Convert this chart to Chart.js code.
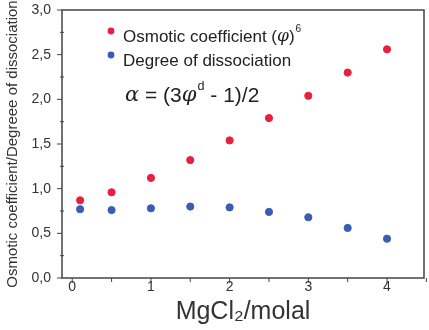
<!DOCTYPE html>
<html>
<head>
<meta charset="utf-8">
<script src="https://cdn.jsdelivr.net/npm/chart.js@4.4.0/dist/chart.umd.min.js"></script>
<style>
  html, body { margin: 0; padding: 0; background: #fff; }
  #wrap { width: 429px; height: 330px; position: relative; }
</style>
</head>
<body>
<div id="wrap"><canvas id="chart" width="429" height="330"></canvas></div>
<script>
// MgCl2 molality
const molal = [0.1, 0.5, 1, 1.5, 2, 2.5, 3, 3.5, 4];
// osmotic coefficient
const osmotic = [0.87, 0.96, 1.12, 1.32, 1.54, 1.79, 2.04, 2.30, 2.56];
// degree of dissociation
const dissociation = [0.77, 0.76, 0.78, 0.80, 0.79, 0.74, 0.68, 0.56, 0.44];

const xTicks = [0, 0.5, 1, 1.5, 2, 2.5, 3, 3.5, 4, 4.5];
const yTicks = [0, 0.25, 0.5, 0.75, 1, 1.25, 1.5, 1.75, 2, 2.25, 2.5, 2.75, 3];

const seriesNames = ['Osmotic coefficient (φ)^6', 'Degree of dissociation'];
const formula = 'α = (3φ^d - 1)/2';
const xTitle = 'MgCl₂/molal';
const yTitle = 'Osmotic coefficient/Degreee of dissociation';

const FONT = 'Arial, "Liberation Sans", sans-serif';
const axisColor = '#444';

function fmt(v) {
    return v.toFixed(1).replace('.', ',');
}

// draw text with "^x" as superscript, Greek letters in italics
function drawRich(ctx, text, x, y, size) {
    const parts = text.split('^');
    ctx.textBaseline = 'middle';
    ctx.textAlign = 'left';
    parts.forEach((p, idx) => {
        let str = p;
        if (idx > 0) {
            const sup = p.charAt(0);
            str = p.slice(1);
            ctx.font = (size * 0.6) + 'px ' + FONT;
            ctx.fillText(sup, x + 1, y - size * 0.45);
            x += ctx.measureText(sup).width + 1;
        }
        for (const ch of str) {
            const greek = /[α-ω]/.test(ch);
            ctx.font = (greek ? 'italic ' : '') + size + 'px ' + (greek ? '"DejaVu Serif", serif' : FONT);
            ctx.fillText(ch, x, y);
            x += ctx.measureText(ch).width;
        }
    });
}

const annotations = {
    id: 'annotations',
    afterDraw(chart) {
        const ctx = chart.ctx;
        const area = chart.chartArea;
        const xs = chart.scales.x, ys = chart.scales.y;
        ctx.save();

        // frame
        ctx.strokeStyle = axisColor;
        ctx.lineWidth = 1.5;
        ctx.strokeRect(area.left, area.top, area.right - area.left, area.bottom - area.top);

        // tick marks
        ctx.lineWidth = 1;
        xTicks.forEach(v => {
            const px = xs.getPixelForValue(v);
            ctx.beginPath();
            ctx.moveTo(px, area.bottom);
            ctx.lineTo(px, area.bottom + (Number.isInteger(v) ? 5 : 4));
            ctx.stroke();
        });
        yTicks.forEach(v => {
            const py = ys.getPixelForValue(v);
            const major = Math.abs(v * 2 - Math.round(v * 2)) < 1e-6;
            ctx.beginPath();
            ctx.moveTo(area.left - (major ? 5 : 2), py);
            ctx.lineTo(area.left + (major ? 0 : 2), py);
            ctx.stroke();
        });

        // legend
        chart.data.datasets.forEach((ds, i) => {
            const y = 34 + i * 24;
            ctx.beginPath();
            ctx.fillStyle = ds.backgroundColor;
            ctx.arc(111, y - 3, 3.4, 0, Math.PI * 2);
            ctx.fill();
            ctx.fillStyle = '#222';
            drawRich(ctx, ds.label, 123, y + 3, 17);
        });

        // formula
        drawRich(ctx, formula, 125, 96, 21);
        ctx.restore();
    }
};

new Chart(document.getElementById('chart'), {
    type: 'scatter',
    data: {
        datasets: [{
            label: seriesNames[0],
            data: molal.map((x, i) => ({ x: x, y: osmotic[i] })),
            backgroundColor: '#e8203e',
            borderColor: '#e8203e',
            pointRadius: 3.6
        }, {
            label: seriesNames[1],
            data: molal.map((x, i) => ({ x: x, y: dissociation[i] })),
            backgroundColor: '#3b5cb4',
            borderColor: '#3b5cb4',
            pointRadius: 3.6
        }]
    },
    options: {
        responsive: false,
        animation: false,
        devicePixelRatio: 1,
        layout: { padding: { left: 0, right: 3, top: 10, bottom: 0 } },
        plugins: { legend: { display: false }, tooltip: { enabled: false } },
        scales: {
            x: {
                type: 'linear',
                min: -0.13,
                max: 4.47,
                afterBuildTicks: axis => { axis.ticks = xTicks.map(v => ({ value: v })); },
                afterFit: axis => {
                    axis.height = 52;
                    axis.paddingLeft = 0;
                    axis.paddingRight = 0;
                },
                grid: { display: false, drawTicks: false },
                border: { display: false },
                ticks: {
                    padding: 1,
                    autoSkip: false,
                    maxRotation: 0,
                    color: '#333',
                    font: { family: FONT, size: 14 },
                    callback: v => Number.isInteger(v) ? String(v) : ''
                },
                title: {
                    display: true,
                    text: xTitle,
                    color: '#333',
                    font: { family: FONT, size: 25 },
                    padding: { top: 0, bottom: 3 }
                }
            },
            y: {
                min: 0,
                max: 3,
                afterBuildTicks: axis => { axis.ticks = yTicks.map(v => ({ value: v })); },
                afterFit: axis => {
                    axis.width = 62;
                    axis.paddingTop = 0;
                    axis.paddingBottom = 0;
                },
                grid: { display: false, drawTicks: false },
                border: { display: false },
                ticks: {
                    padding: 11,
                    autoSkip: false,
                    color: '#333',
                    font: { family: FONT, size: 14 },
                    callback: v => Math.abs(v * 2 - Math.round(v * 2)) < 1e-6 ? fmt(v) : ''
                },
                title: {
                    display: true,
                    text: yTitle,
                    color: '#333',
                    font: { family: FONT, size: 15 },
                    padding: { top: 4, bottom: 0 }
                }
            }
        }
    },
    plugins: [annotations]
});
</script>
</body>
</html>
